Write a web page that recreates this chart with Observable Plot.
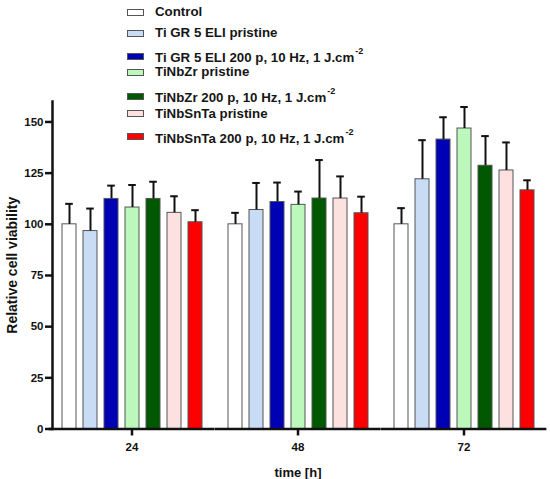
<!DOCTYPE html>
<html>
<head>
<meta charset="utf-8">
<script src="https://cdn.jsdelivr.net/npm/d3@7"></script>
<script src="https://cdn.jsdelivr.net/npm/@observablehq/plot@0.6"></script>
<style>
  html, body { margin: 0; padding: 0; background: #fff; }
  #wrap { position: relative; width: 550px; height: 479px; font-family: "Liberation Sans", Arial, sans-serif; font-weight: bold; color: #161616; }
  #legend { position: absolute; left: 0; top: 0; width: 550px; height: 0; }
  .row { position: absolute; left: 127px; height: 16px; display: flex; align-items: center; white-space: nowrap; }
  .sw { width: 17px; height: 7px; box-sizing: border-box; border: 1px solid #555; margin-right: 11px; }
  .lab { font-size: 13.3px; line-height: 16px; }
  .lab sup { font-size: 9px; line-height: 0; vertical-align: baseline; position: relative; top: -8px; margin-left: 1px; }
</style>
</head>
<body>
<div id="wrap">
  <div id="chart"></div>
  <div id="legend"></div>
</div>
<script>
// ---- data ----
const times = ["24", "48", "72"];
const series = [
  "Control",
  "Ti GR 5 ELI pristine",
  "Ti GR 5 ELI 200 p, 10 Hz, 1 J.cm^-2",
  "TiNbZr pristine",
  "TiNbZr 200 p, 10 Hz, 1 J.cm^-2",
  "TiNbSnTa pristine",
  "TiNbSnTa 200 p, 10 Hz, 1 J.cm^-2"
];
const colors = ["#ffffff", "#c8ddf5", "#0000b4", "#bcf8bc", "#005800", "#fde0e0", "#ff0000"];
const mean24 = [100, 96.7, 112.4, 108.2, 112.4, 105.6, 101.0];
const sd24   = [10.0, 11.0, 6.5, 11.0, 8.4, 8.1, 5.9];
const mean48 = [100, 107.0, 110.9, 109.5, 112.6, 112.6, 105.4];
const sd48   = [5.6, 13.2, 9.5, 6.5, 18.8, 10.8, 8.1];
const mean72 = [100, 122.0, 141.4, 146.8, 128.6, 126.3, 116.6];
const sd72   = [7.9, 19.1, 10.9, 10.5, 14.5, 13.7, 4.9];
const yTicks = [0, 25, 50, 75, 100, 125, 150];

// ---- table built from the arrays ----
const means = [mean24, mean48, mean72];
const sds = [sd24, sd48, sd72];
const data = [];
times.forEach((t, i) => series.forEach((s, j) => {
  data.push({time: t, series: s, value: means[i][j], top: means[i][j] + sds[i][j]});
}));

const ink = "#111";
const chart = Plot.plot({
  width: 550,
  height: 479,
  marginTop: 101,
  marginBottom: 50.5,
  marginLeft: 52,
  marginRight: 6.4,
  style: {fontFamily: "'Liberation Sans', Arial, sans-serif", fontWeight: "bold", color: ink, background: "white", overflow: "visible"},
  fx: {domain: times, paddingInner: 0.04, paddingOuter: 0},
  x: {domain: series, padding: 0.355, axis: null},
  y: {domain: [0, 160], axis: null},
  color: {domain: series, range: colors},
  marks: [
    Plot.barY(data, {fx: "time", x: "series", y: "value", fill: "series", stroke: "#555", strokeWidth: 1}),
    Plot.ruleX(data, {fx: "time", x: "series", y1: "value", y2: "top", stroke: ink, strokeWidth: 2}),
    Plot.tickY(data, {fx: "time", x: "series", y: "top", stroke: ink, strokeWidth: 2, insetLeft: 3.2, insetRight: 3.2}),
    Plot.ruleY([0], {stroke: ink, strokeWidth: 2.5, insetLeft: -3.4, insetRight: -3.4}),
    Plot.frame({anchor: "left", facetAnchor: "left", stroke: ink, strokeWidth: 2.5}),
    Plot.axisY({ticks: yTicks, tickSize: 7, tickPadding: 2, fontSize: 11.5, strokeWidth: 2.5, label: null}),
    Plot.axisY({ticks: [], label: "Relative cell viability", labelAnchor: "center", labelArrow: "none", labelOffset: 45.5, fontSize: 14}),
    Plot.axisFx({anchor: "bottom", tickSize: 7, tickPadding: 6.4, fontSize: 11.5, strokeWidth: 2.5, label: null}),
    Plot.axisFx({anchor: "bottom", ticks: [], label: "time [h]", labelAnchor: "center", labelArrow: "none", labelOffset: 47.5, fontSize: 13})
  ]
});
document.getElementById("chart").appendChild(chart);

// ---- legend (HTML, overlaid on the chart's upper area) ----
const legendRowCenters = [12.3, 33, 58.3, 72.2, 98, 113.8, 138.8];
const legend = document.getElementById("legend");
series.forEach((s, j) => {
  const row = document.createElement("div");
  row.className = "row";
  row.style.top = (legendRowCenters[j] - 8) + "px";
  const sw = document.createElement("div");
  sw.className = "sw";
  sw.style.background = colors[j];
  const parts = s.split("^");
  if (parts.length > 1) sw.style.transform = "translateY(-2px)";
  const lab = document.createElement("span");
  lab.className = "lab";
  lab.textContent = parts[0];
  if (parts.length > 1) {
    const sup = document.createElement("sup");
    sup.textContent = parts[1];
    lab.appendChild(sup);
  }
  row.appendChild(sw);
  row.appendChild(lab);
  legend.appendChild(row);
});
</script>
</body>
</html>
